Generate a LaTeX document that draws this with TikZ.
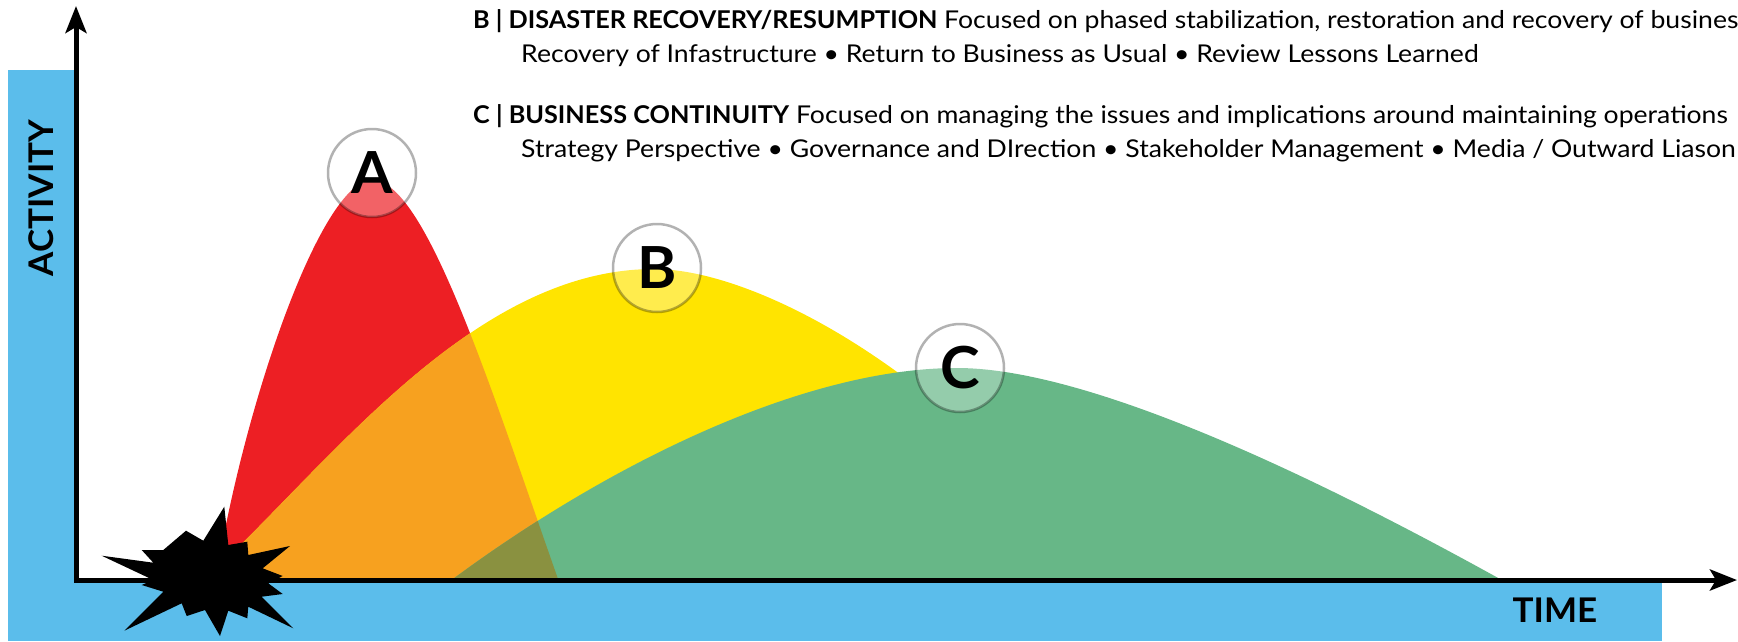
\documentclass[tikz,border=0pt]{standalone}
\usepackage{fontspec}
\setmainfont{Lato}[UprightFeatures={FakeStretch=1.085},BoldFeatures={FakeStretch=1.03}]
\usetikzlibrary{arrows.meta}
\definecolor{skyblue}{HTML}{5BBDEB}
\definecolor{cred}{HTML}{ED1F24}
\definecolor{cyellow}{HTML}{FFE400}
\definecolor{corange}{HTML}{F7A11F}
\definecolor{cgreen}{HTML}{67B787}
\definecolor{colive}{HTML}{8A9140}
\tikzset{
  txt/.style={anchor=base west, inner sep=0pt, font=\fontsize{24.5}{29}\selectfont},
  axislabel/.style={inner sep=0pt, font=\fontsize{34}{40}\selectfont\bfseries},
  marker/.style={circle, minimum size=88pt, inner sep=0pt, draw=black, draw opacity=0.3,
    line width=2.5pt, fill=white, fill opacity=0.3, text opacity=1,
    font=\fontsize{58}{60}\selectfont\bfseries},
  axisline/.style={line width=5pt, line join=miter,
    {Stealth[length=27pt,width=21pt,inset=6pt]}-{Stealth[length=27pt,width=21pt,inset=6pt]}}
}
\begin{document}
\begin{tikzpicture}[x=1pt,y=-1pt]
\useasboundingbox (0,0) rectangle (1738,641);
\clip (0,0) rectangle (1738,641);
% blue bands
\fill[skyblue] (8,70) rectangle (76,641);
\fill[skyblue] (8,583) rectangle (1662,641);
% curve paths
\def\redpath{(216,579) .. controls (245,400) and (322,180) .. (372,180)
  .. controls (425,180) and (488,380) .. (558,579) -- cycle}
\def\yellowpath{(205,579) .. controls (325,470) and (470,269) .. (654,269)
  .. controls (760,269) and (960,380) .. (1100,579) -- cycle}
\def\greenpath{(453,579) .. controls (603,468) and (800,368) .. (957,368)
  .. controls (1100,368) and (1350,496) .. (1500,579) -- cycle}
\fill[cred] \redpath;
\fill[cyellow] \yellowpath;
\begin{scope}
  \clip \redpath;
  \fill[corange] \yellowpath;
\end{scope}
\fill[cgreen] \greenpath;
\begin{scope}
  \clip \redpath;
  \clip \yellowpath;
  \fill[colive] \greenpath;
\end{scope}
% markers
\node[marker] (A) at (372,173) {A};
\node[marker] (B) at (657,268) {B};
\node[marker] (C) at (960,368) {C};
% axes
\coordinate (origin) at (76,580);
\coordinate (ytip) at (76,6);
\coordinate (xtip) at (1737,580);
\draw[axisline] (ytip) -- (origin) -- (xtip);
% explosion
\fill[black] (224.3,506.7) -- (228.3,545) -- (247.3,541.7) -- (248.3,555) -- (290,546)
  -- (262.7,568.3) -- (282.7,576) -- (268.3,583.3) -- (282.7,594) -- (261.7,596.7)
  -- (293.3,628.3) -- (248.3,606.7) -- (247.3,618.3) -- (228.3,610.7) -- (220,636)
  -- (205,610) -- (186.7,616) -- (181.7,603.3) -- (124.3,630.7) -- (163.3,591.7)
  -- (141.7,585) -- (153.3,580) -- (101.7,555.7) -- (153.3,562.7) -- (141.7,550)
  -- (163.3,550) -- (186,530.7) -- (203.3,540.7) -- cycle;
% axis labels
\node[axislabel, rotate=90] (activity) at (41,198) {ACTIVITY};
\node[axislabel] (time) at (1555,610) {TIME};
% legend text
\node[txt] (b1) at (473,28) {\textbf{B | DISASTER RECOVERY/RESUMPTION} Focused on phased stabilization, restoration and recovery of business};
\node[txt] (b2) at (521,62) {Recovery of Infastructure • Return to Business as Usual • Review Lessons Learned};
\node[txt] (c1) at (473,123) {\textbf{C | BUSINESS CONTINUITY} Focused on managing the issues and implications around maintaining operations};
\node[txt] (c2) at (521,157) {Strategy Perspective • Governance and DIrection • Stakeholder Management • Media / Outward Liason};
\end{tikzpicture}
\end{document}
